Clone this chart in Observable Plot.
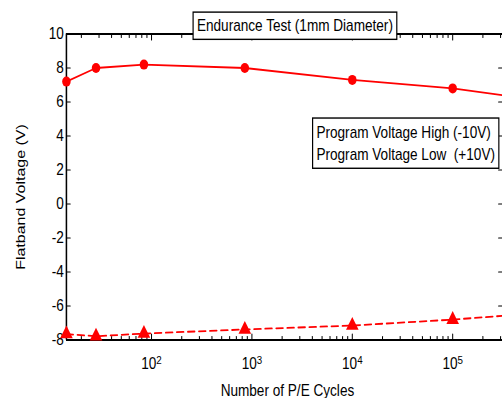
<!DOCTYPE html>
<html><head><meta charset="utf-8">
<script src="https://cdn.jsdelivr.net/npm/d3@7"></script>
<script src="https://cdn.jsdelivr.net/npm/@observablehq/plot@0.6"></script>
<style>body{margin:0;background:#fff} #chart svg{display:block}</style>
</head><body><div id="chart"></div>
<script>
// ---- data ----
const cycles = [14.2, 28, 84, 850, 10000, 100000, 313000];
const vHigh = [7.2, 8.0, 8.2, 8.0, 7.3, 6.8, 6.4];
const vLow = [-7.65, -7.78, -7.62, -7.38, -7.15, -6.8, -6.58];
const markerCount = 6;
const xMajorTicks = [100, 1000, 10000, 100000];
const yTicks = [-8, -6, -4, -2, 0, 2, 4, 6, 8, 10];
const titleText = "Endurance Test (1mm Diameter)";
const legendLabels = ["Program Voltage High (-10V)", "Program Voltage Low  (+10V)"];
const xLabel = "Number of P/E Cycles";
const yLabel = "Flatband Voltage (V)";

// ---- layout ----
const S = 0.85;               // horizontal squeeze of the reference
const outW = 502, outH = 398;
const W = outW / S;
const mL = 66 / S, mT = 33.5, mB = 58.5, mR = 0;
const frameCenter = (mL + W - mR) / 2;
const fontFam = "'Liberation Sans', Arial, sans-serif";

const high = cycles.map((c, i) => ({c, v: vHigh[i]}));
const low = cycles.map((c, i) => ({c, v: vLow[i]}));
const xDomain = [cycles[0], cycles[cycles.length - 1]];
const yDomain = [yTicks[0], yTicks[yTicks.length - 1]];
const xMinorTicks = [];
for (let d = 10; d <= 1e5; d *= 10)
  for (let m = 2; m <= 9; m++) {
    const v = m * d;
    if (v >= xDomain[0] && v <= xDomain[1]) xMinorTicks.push(v);
  }

const tickShape = {draw(ctx, l) { ctx.moveTo(0, 0); ctx.lineTo(0, -l); }};
const tk = (data, opts) => Plot.vector(data, {anchor: "start", shape: tickShape, stroke: "black", strokeWidth: 1.2, ...opts});

const svg = Plot.plot({
  width: W, height: outH,
  marginLeft: mL, marginTop: mT, marginBottom: mB, marginRight: mR,
  style: {fontFamily: fontFam, background: "white"},
  x: {type: "log", domain: xDomain},
  y: {domain: yDomain},
  marks: [
    Plot.ruleY([yDomain[0], yDomain[1]], {stroke: "black", strokeWidth: 1.8}),
    Plot.ruleX([xDomain[0]], {stroke: "black", strokeWidth: 1.8}),
    tk(xMajorTicks, {x: d => d, frameAnchor: "bottom", rotate: 0, length: 6}),
    tk(xMinorTicks, {x: d => d, frameAnchor: "bottom", rotate: 0, length: 3.5}),
    tk(xMajorTicks, {x: d => d, frameAnchor: "top", rotate: 180, length: 6}),
    tk(xMinorTicks, {x: d => d, frameAnchor: "top", rotate: 180, length: 3.5}),
    tk(yTicks, {y: d => d, frameAnchor: "left", rotate: 90, length: 4.5}),
    tk(yTicks, {y: d => d, frameAnchor: "right", rotate: -90, length: 4.5}),
    Plot.axisY({ticks: yTicks, tickSize: 0, tickPadding: 3, fontSize: 16, label: null,
      tickFormat: d => String(d)}),
    Plot.axisX({ticks: xMajorTicks, tickSize: 0, tickPadding: 18, fontSize: 16, label: null,
      tickFormat: d => "10^" + Math.round(Math.log10(d))}),
    Plot.line(high, {x: "c", y: "v", stroke: "#ff0000", strokeWidth: 1.8}),
    Plot.line(low, {x: "c", y: "v", stroke: "#ff0000", strokeWidth: 1.8, strokeDasharray: "8,5"}),
    Plot.dot(high.slice(0, markerCount), {x: "c", y: "v", r: 5, fill: "#ff0000"}),
    Plot.dot(low.slice(0, markerCount), {x: "c", y: "v", r: 5.5, symbol: "triangle", fill: "#ff0000"}),
    Plot.text([titleText], {text: d => d, frameAnchor: "top", textAnchor: "middle", dx: 294.5 / S - frameCenter, dy: -8,
      lineAnchor: "middle", fontSize: 16, fill: "black"}),
    Plot.text([legendLabels.join("\n")], {text: d => d, frameAnchor: "top-left", textAnchor: "start",
      lineAnchor: "middle", lineHeight: 22 / 16, dx: 316 / S - mL, dy: 141 - mT, fontSize: 16,
      fill: "black"}),
    Plot.text([xLabel], {text: d => d, frameAnchor: "bottom", textAnchor: "middle", lineAnchor: "middle",
      dx: 287 / S - frameCenter, dy: 50.5, fontSize: 16, fill: "black"}),
    Plot.text([yLabel], {text: d => d, frameAnchor: "left", textAnchor: "middle", lineAnchor: "middle",
      rotate: -90, dx: -(mL - 20 / S), dy: 10, fontSize: 16, fill: "black"})
  ]
});

document.getElementById("chart").append(svg);
svg.setAttribute("width", outW);
svg.setAttribute("height", outH);
svg.setAttribute("preserveAspectRatio", "none");
svg.style.width = outW + "px";
svg.style.height = outH + "px";
svg.style.maxWidth = "none";
svg.querySelectorAll("text").forEach(t => t.style.whiteSpace = "pre");

const NS = "http://www.w3.org/2000/svg";
svg.querySelectorAll('g[aria-label="x-axis tick label"] text').forEach(t => {
  const [b, e] = t.textContent.split("^");
  t.textContent = "";
  const s1 = document.createElementNS(NS, "tspan"); s1.textContent = b; t.append(s1);
  const s2 = document.createElementNS(NS, "tspan"); s2.textContent = e;
  s2.setAttribute("dy", "-0.5em"); s2.setAttribute("font-size", "11.5"); t.append(s2);
});

function boxAround(t, padX, padY) {
  if (!t) return;
  const bb = t.getBBox();
  const r = document.createElementNS(NS, "rect");
  r.setAttribute("x", bb.x - padX); r.setAttribute("y", bb.y - padY);
  r.setAttribute("width", bb.width + 2 * padX); r.setAttribute("height", bb.height + 2 * padY);
  r.setAttribute("fill", "white"); r.setAttribute("stroke", "black"); r.setAttribute("stroke-width", 1.4);
  const tr = t.getAttribute("transform");
  if (tr) r.setAttribute("transform", tr);
  t.parentNode.insertBefore(r, t);
}
const allTexts = [...svg.querySelectorAll("text")];
boxAround(allTexts.find(t => t.textContent === titleText), 4.5, 5);
boxAround(allTexts.find(t => t.textContent.startsWith(legendLabels[0])), 4.5, 5.5);
</script></body></html>
